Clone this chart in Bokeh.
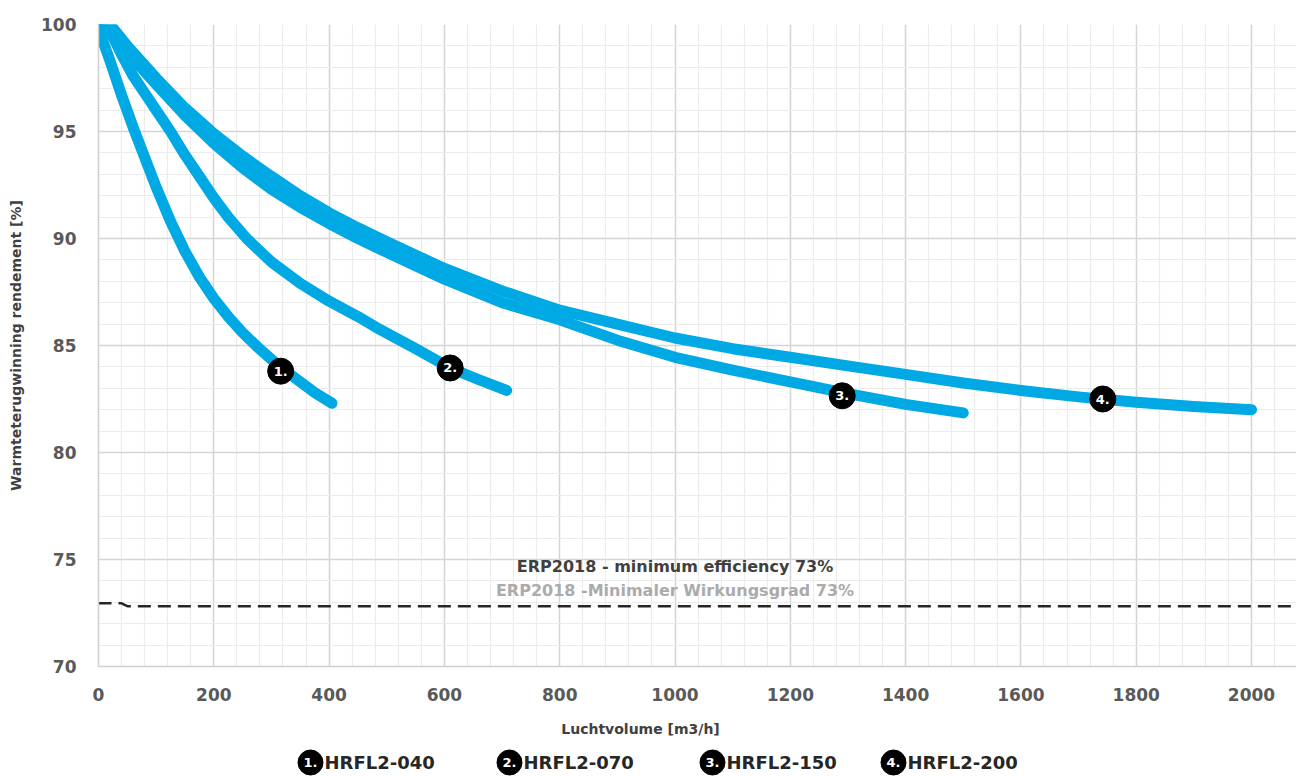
from bokeh.plotting import figure
from bokeh.layouts import column
from bokeh.models import SingleIntervalTicker, Label, Range1d, ColumnDataSource
from bokeh.core.properties import value
from bokeh.embed import file_html
from bokeh.resources import INLINE

# ---- data ----
c1_x = [0, 20, 40, 60, 80, 100, 125, 150, 175, 200, 225, 250, 275, 300, 325, 350, 375, 405]
c1_y = [99.8, 98.3, 96.7, 95.2, 93.8, 92.4, 90.8, 89.4, 88.2, 87.2, 86.35, 85.6, 84.95, 84.35, 83.8, 83.3, 82.8, 82.3]

c2_x = [0, 20, 40, 60, 80, 100, 125, 150, 175, 200, 225, 257, 300, 350, 400, 450, 488, 550, 610, 660, 708]
c2_y = [99.8, 99.7, 98.6, 97.6, 96.8, 96.0, 95.0, 93.9, 92.9, 91.9, 91.0, 90.0, 88.9, 87.9, 87.07, 86.35, 85.75, 84.85, 83.95, 83.4, 82.9]

c3_x = [0, 20, 50, 100, 150, 200, 250, 300, 350, 400, 450, 500, 600, 700, 800, 900, 1000, 1100, 1200, 1300, 1400, 1500]
c3_y = [99.7, 100.0, 98.7, 97.2, 95.75, 94.45, 93.3, 92.3, 91.45, 90.7, 90.0, 89.35, 88.1, 87.0, 86.2, 85.25, 84.45, 83.85, 83.3, 82.75, 82.25, 81.85]

c4_x = [0, 20, 50, 100, 150, 200, 250, 300, 350, 400, 450, 500, 600, 700, 800, 900, 1000, 1100, 1200, 1300, 1400, 1500, 1600, 1700, 1800, 1900, 2000]
c4_y = [99.7, 100.0, 99.0, 97.5, 96.1, 94.9, 93.85, 92.9, 92.0, 91.2, 90.5, 89.85, 88.6, 87.55, 86.65, 86.0, 85.35, 84.85, 84.45, 84.05, 83.65, 83.25, 82.9, 82.6, 82.35, 82.15, 82.0]

marker_x = [316, 610, 1290, 1742]
marker_y = [83.8, 83.95, 82.65, 82.5]
marker_txt = ["1.", "2.", "3.", "4."]

series_names = ["HRFL2-040", "HRFL2-070", "HRFL2-150", "HRFL2-200"]

erp_x = [0, 40, 50, 2100]
erp_y = [72.95, 72.95, 72.82, 72.82]

x_ticks_interval = 200
y_ticks_interval = 5

BLUE = "#00A9E4"
FONT = "DejaVu Sans"

W = 1296
p = figure(width=W, height=710, x_range=Range1d(0, 2078), y_range=Range1d(70, 100),
           output_backend="svg", toolbar_location=None,
           min_border_left=98, min_border_right=0, min_border_top=24, min_border_bottom=44)
p.outline_line_color = None
p.background_fill_color = "white"
p.border_fill_color = "white"

p.xaxis.ticker = SingleIntervalTicker(interval=x_ticks_interval, num_minor_ticks=5)
p.yaxis.ticker = SingleIntervalTicker(interval=y_ticks_interval, num_minor_ticks=5)

for ax in (p.xaxis[0], p.yaxis[0]):
    ax.major_tick_line_color = None
    ax.minor_tick_line_color = None
    ax.major_tick_out = 0
    ax.major_tick_in = 0
    ax.axis_line_color = "#CFCFCF"
    ax.axis_line_width = 1.5
    ax.major_label_text_font = FONT
    ax.major_label_text_font_style = "bold"
    ax.major_label_text_font_size = "17px"
    ax.major_label_text_color = "#595959"
    ax.axis_label_text_font = FONT
    ax.axis_label_text_font_style = "bold"
    ax.axis_label_text_font_size = "14px"
    ax.axis_label_text_color = "#404040"

p.xaxis.major_label_standoff = 17
p.yaxis.major_label_standoff = 18
p.yaxis.axis_label = "Warmteterugwinning rendement [%]"
p.yaxis.axis_label_standoff = 14

p.grid.grid_line_color = "#D5D5D5"
p.grid.grid_line_width = 1.5
p.grid.minor_grid_line_color = "#ECECEC"
p.grid.minor_grid_line_width = 1.2

# ERP minimum line
p.line(erp_x, erp_y, line_color="#262626", line_width=2.5, line_dash="13 7")

# curves
for xs, ys in [(c4_x, c4_y), (c3_x, c3_y), (c2_x, c2_y), (c1_x, c1_y)]:
    p.line(xs, ys, line_color=BLUE, line_width=11, line_cap="round", line_join="round")

# markers on the curves
msrc = ColumnDataSource(dict(x=marker_x, y=marker_y, t=marker_txt))
p.scatter("x", "y", source=msrc, marker="circle", size=26, fill_color="black", line_color="black")
p.text("x", "y", text="t", source=msrc, text_color="white", text_font=value(FONT),
       text_font_style="bold", text_font_size="13px", text_align="center", text_baseline="middle")

# ERP texts
p.add_layout(Label(x=1000, y=74.65, text="ERP2018 - minimum efficiency 73%", text_align="center",
                   text_baseline="middle", text_font=FONT, text_font_style="bold",
                   text_font_size="16px", text_color="#404040"))
p.add_layout(Label(x=1000, y=73.55, text="ERP2018 -Minimaler Wirkungsgrad 73%", text_align="center",
                   text_baseline="middle", text_font=FONT, text_font_style="bold",
                   text_font_size="16px", text_color="#ABABAB"))

# strip below the plot: x-axis title and legend (x in page pixels, y in pixels from strip bottom)
H2 = 66
leg_cx = [310, 509, 712, 893]
leg = figure(width=W, height=H2, x_range=Range1d(98, W), y_range=Range1d(0, H2),
             output_backend="svg", toolbar_location=None,
             min_border_left=0, min_border_right=0, min_border_top=0, min_border_bottom=0)
leg.axis.visible = False
leg.grid.visible = False
leg.outline_line_color = None
leg.add_layout(Label(x=640, y=H2 - 18, text="Luchtvolume [m3/h]", text_align="center",
                     text_baseline="middle", text_font=FONT, text_font_style="bold",
                     text_font_size="14px", text_color="#404040"))
lsrc = ColumnDataSource(dict(x=leg_cx, tx=[c + 14 for c in leg_cx], y=[H2 - 52] * 4,
                             n=marker_txt, name=series_names))
leg.scatter("x", "y", source=lsrc, marker="circle", size=25, fill_color="black", line_color="black")
leg.text("x", "y", text="n", source=lsrc, text_color="white", text_font=value(FONT),
         text_font_style="bold", text_font_size="13px", text_align="center", text_baseline="middle")
leg.text("tx", "y", text="name", source=lsrc, text_color="#262626", text_font=value(FONT),
         text_font_style="bold", text_font_size="18px", text_align="left", text_baseline="middle")

open("out.html", "w").write(file_html(column(p, leg, spacing=0), INLINE))
